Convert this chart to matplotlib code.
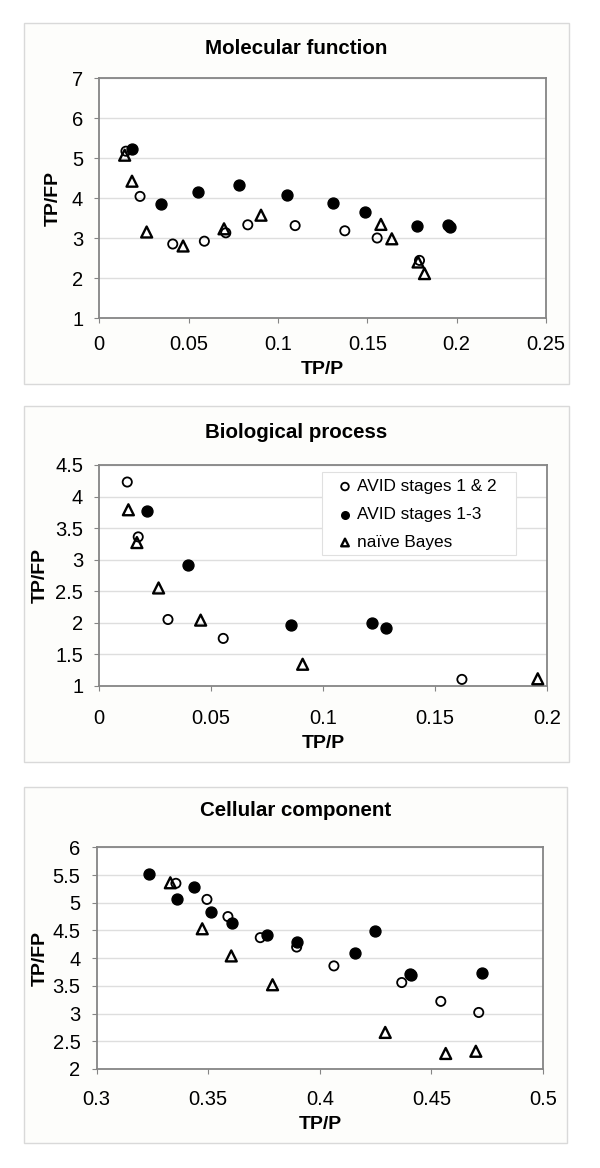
import matplotlib
matplotlib.use("Agg")
import matplotlib.pyplot as plt
from matplotlib.patches import Rectangle

plt.rcParams['font.family'] = ['Liberation Sans', 'DejaVu Sans']

W, H = 600, 1168

# ---------------- data ----------------
series_names = ["AVID stages 1 & 2", "AVID stages 1-3", "na\u00efve Bayes"]

# Molecular function
mf_open_x = [0.0149, 0.0228, 0.0411, 0.0588, 0.0708, 0.0831, 0.1096, 0.1374, 0.1555, 0.1792]
mf_open_y = [5.17, 4.04, 2.85, 2.92, 3.13, 3.33, 3.31, 3.18, 3.00, 2.44]
mf_fill_x = [0.0183, 0.0344, 0.0551, 0.0784, 0.1049, 0.1310, 0.1486, 0.1779, 0.1950, 0.1965]
mf_fill_y = [5.23, 3.85, 4.14, 4.33, 4.08, 3.87, 3.64, 3.29, 3.33, 3.28]
mf_tri_x = [0.0142, 0.0183, 0.0265, 0.0469, 0.0698, 0.0905, 0.1576, 0.1637, 0.1784, 0.1820]
mf_tri_y = [5.07, 4.42, 3.15, 2.80, 3.23, 3.57, 3.34, 2.98, 2.40, 2.11]

# Biological process
bp_open_x = [0.0125, 0.0174, 0.0307, 0.0554, 0.1621]
bp_open_y = [4.23, 3.36, 2.05, 1.75, 1.10]
bp_fill_x = [0.0212, 0.0395, 0.0858, 0.1218, 0.1280]
bp_fill_y = [3.77, 2.91, 1.97, 2.00, 1.92]
bp_tri_x = [0.0130, 0.0168, 0.0265, 0.0453, 0.0909, 0.1960]
bp_tri_y = [3.79, 3.27, 2.55, 2.04, 1.34, 1.11]

# Cellular component
cc_open_x = [0.3355, 0.3494, 0.3588, 0.3733, 0.3896, 0.4063, 0.4367, 0.4542, 0.4712]
cc_open_y = [5.35, 5.06, 4.75, 4.37, 4.20, 3.86, 3.56, 3.22, 3.02]
cc_fill_x = [0.3233, 0.3360, 0.3436, 0.3513, 0.3606, 0.3763, 0.3896, 0.4158, 0.4248, 0.4403, 0.4410, 0.4725]
cc_fill_y = [5.52, 5.07, 5.29, 4.83, 4.64, 4.42, 4.29, 4.09, 4.49, 3.71, 3.70, 3.73]
cc_tri_x = [0.3330, 0.3473, 0.3603, 0.3788, 0.4293, 0.4564, 0.4699]
cc_tri_y = [5.36, 4.53, 4.04, 3.52, 2.66, 2.28, 2.32]

titles = ["Molecular function", "Biological process", "Cellular component"]
xlims = [(0, 0.25), (0, 0.2), (0.3, 0.5)]
ylims = [(1, 7), (1, 4.5), (2, 6)]
xticks = [[0, 0.05, 0.1, 0.15, 0.2, 0.25], [0, 0.05, 0.1, 0.15, 0.2], [0.3, 0.35, 0.4, 0.45, 0.5]]
xticklabels = [["0", "0.05", "0.1", "0.15", "0.2", "0.25"],
               ["0", "0.05", "0.1", "0.15", "0.2"],
               ["0.3", "0.35", "0.4", "0.45", "0.5"]]
yticks = [[1, 2, 3, 4, 5, 6, 7], [1, 1.5, 2, 2.5, 3, 3.5, 4, 4.5], [2, 2.5, 3, 3.5, 4, 4.5, 5, 5.5, 6]]
yticklabels = [["1", "2", "3", "4", "5", "6", "7"],
               ["1", "1.5", "2", "2.5", "3", "3.5", "4", "4.5"],
               ["2", "2.5", "3", "3.5", "4", "4.5", "5", "5.5", "6"]]

data = [
    (mf_open_x, mf_open_y, mf_fill_x, mf_fill_y, mf_tri_x, mf_tri_y),
    (bp_open_x, bp_open_y, bp_fill_x, bp_fill_y, bp_tri_x, bp_tri_y),
    (cc_open_x, cc_open_y, cc_fill_x, cc_fill_y, cc_tri_x, cc_tri_y),
]

# ---------------- layout (pixels) ----------------
panel_boxes = [(24, 23, 569, 384), (24, 406, 569, 762), (24, 787, 567, 1143)]
axes_boxes = [(99.3, 78, 546, 318), (99.3, 465, 546.7, 685.7), (96.7, 847.3, 543, 1069)]
title_baseline = [54.5, 437.5, 816]
ylabel_x = [53, 40.7, 40.7]
xtick_pad = [8.5, 13.0, 11.4]

fig = plt.figure(figsize=(W / 100, H / 100), dpi=100)
fig.patch.set_facecolor("white")

def fx(px):
    return px / W

def fy(py):
    return 1 - py / H

spine_col = "#858585"
grid_col = "#dedede"

for i in range(3):
    l, t, r, b = panel_boxes[i]
    fig.patches.append(Rectangle((fx(l), fy(b)), fx(r) - fx(l), fy(t) - fy(b),
                                 transform=fig.transFigure, facecolor="#fdfdfb",
                                 edgecolor="#d9d9d9", linewidth=1.0, zorder=-10))
    fig.text(fx((l + r) / 2), fy(title_baseline[i]), titles[i], ha="center", va="baseline",
             fontsize=14.8, fontweight="bold")

    al, at, ar, ab = axes_boxes[i]
    ax = fig.add_axes([fx(al), fy(ab), fx(ar) - fx(al), fy(at) - fy(ab)])
    ax.set_zorder(1)
    ax.set_facecolor("white")
    ox, oy, fxv, fyv, tx, ty = data[i]
    ax.scatter(ox, oy, s=44, marker="o", facecolors="none", edgecolors="black",
               linewidths=1.3, zorder=3, label=series_names[0])
    ax.scatter(fxv, fyv, s=62, marker="o", facecolors="black", edgecolors="black",
               linewidths=1.0, zorder=4, label=series_names[1])
    ax.scatter(tx, ty, s=62, marker="^", facecolors="none", edgecolors="black",
               linewidths=1.7, zorder=5, label=series_names[2])

    ax.set_xlim(*xlims[i])
    ax.set_ylim(*ylims[i])
    ax.set_xticks(xticks[i])
    ax.set_xticklabels(xticklabels[i])
    ax.set_yticks(yticks[i])
    ax.set_yticklabels(yticklabels[i])
    ax.grid(axis="y", color=grid_col, linewidth=1.0, zorder=0)
    ax.set_axisbelow(True)
    for sp in ax.spines.values():
        sp.set_color(spine_col)
        sp.set_linewidth(1.3)
    ax.tick_params(axis="both", direction="out", length=3.6, width=0.8, color=spine_col,
                   labelsize=14.5, labelcolor="black")
    ax.tick_params(axis="y", pad=8)
    ax.tick_params(axis="x", pad=xtick_pad[i])
    ax.set_xlabel("TP/P", fontsize=14, fontweight="bold", labelpad=5.5)
    ax.set_ylabel("TP/FP", fontsize=14, fontweight="bold", va="center")
    ax.yaxis.set_label_coords((ylabel_x[i] - al) / (ar - al), 0.5)

    if i == 1:
        aw, ah = ar - al, ab - at
        # legend frame
        fl, ft, fr, fb = 321.7, 471.7, 516, 555
        ax.add_patch(Rectangle(((fl - al) / aw, (ab - fb) / ah), (fr - fl) / aw, (fb - ft) / ah,
                               transform=ax.transAxes, facecolor="white", edgecolor="#e0e0e0",
                               linewidth=0.8, zorder=6))
        leg = ax.legend(loc="upper left", bbox_to_anchor=((338.1 - al) / aw, (ab - 479) / ah),
                        borderaxespad=0, fontsize=12.4, frameon=False,
                        handlelength=0.8, handletextpad=0.28, labelspacing=0.75,
                        borderpad=0, scatterpoints=1)
        leg.set_zorder(7)
        for h in leg.legend_handles:
            h.set_sizes([30])

fig.savefig("out.png", dpi=100, facecolor="white")
